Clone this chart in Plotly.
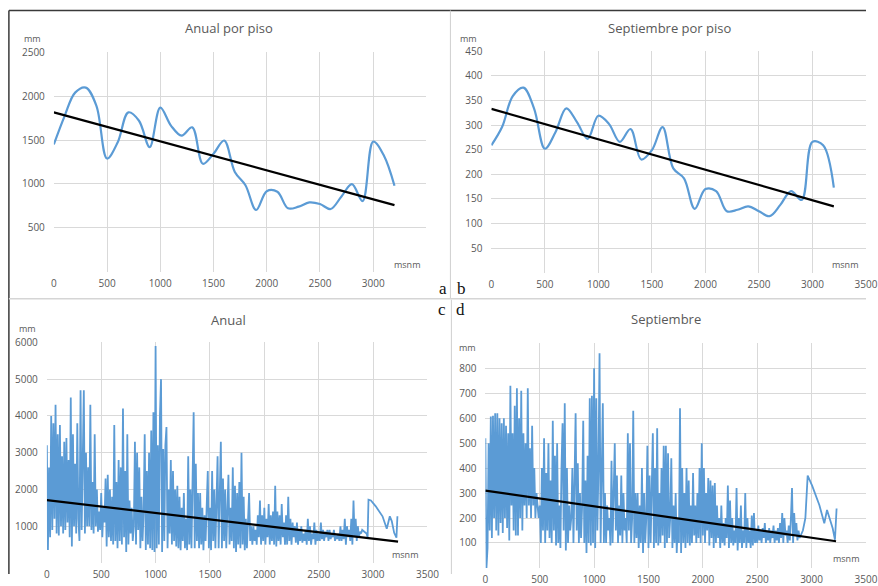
import plotly.graph_objects as go

W, H = 878, 586

# ---------------- DATA ----------------
# Panel a / b: mean precipitation per 100 m altitude band (msnm)
piso_x = [0, 100, 200, 300, 400, 500, 600, 700, 800, 900, 1000, 1100, 1200, 1300, 1400, 1500,
          1600, 1700, 1800, 1900, 2000, 2100, 2200, 2300, 2400, 2500, 2600, 2700, 2800, 2900,
          3000, 3100, 3200]
anual_piso = [1450, 1770, 2040, 2097, 1890, 1290, 1475, 1815, 1720, 1420, 1870, 1665, 1550, 1645,
              1230, 1345, 1495, 1137, 986, 704, 918, 911, 723, 742, 790, 772, 715, 855, 998, 806,
              1483, 1325, 980]
sept_piso = [259, 296, 359, 376, 333, 252, 286, 334, 306, 272, 319, 302, 266, 292, 230, 249,
             296, 212, 192, 130, 170, 166, 125, 128, 135, 125, 115, 138, 166, 148, 266, 259, 173]
trend_a_x = [0, 3200]
trend_a_y = [1815, 760]
trend_b_x = [0, 3200]
trend_b_y = [333, 135]

# Panel c / d: station values along altitude (10 m steps up to 2890 m, then sparse tail)
dense_x = list(range(0, 2900, 10))
anual_dense = [
    3200, 350, 2600, 700, 4000, 900, 3800, 1200, 4300, 800,
    3500, 750, 3750, 1000, 2900, 800, 3300, 900, 3400, 1100,
    2800, 700, 4500, 450, 3500, 1000, 2700, 800, 3800, 1200,
    600, 4700, 900, 2800, 4700, 800, 3000, 1000, 2600, 1000,
    4300, 900, 2200, 800, 3500, 1000, 2000, 850, 1400, 900,
    1900, 700, 1500, 1100, 2300, 450, 2400, 700, 2000, 600,
    1800, 500, 3750, 600, 2200, 400, 2800, 600, 2600, 500,
    4200, 700, 2500, 300, 3500, 500, 1700, 800, 1500, 600,
    1000, 3300, 500, 3000, 900, 2600, 400, 1800, 600, 1400,
    3500, 350, 2500, 500, 3000, 400, 3600, 350, 4100, 300,
    5900, 400, 3200, 500, 4000, 5000, 300, 3100, 600, 3200,
    3700, 400, 2000, 800, 2800, 500, 2500, 600, 2000, 450,
    2100, 400, 1800, 350, 1500, 600, 1900, 400, 1200, 350,
    2900, 500, 2000, 400, 2700, 4100, 400, 2700, 600, 1900,
    400, 1900, 500, 1500, 350, 1300, 600, 2000, 2500, 400,
    1500, 350, 2500, 600, 2000, 400, 2300, 2900, 400, 1800,
    3300, 400, 2300, 600, 2000, 400, 1800, 2400, 500, 1500,
    600, 2600, 400, 2100, 300, 1900, 500, 2200, 400, 3000,
    500, 1800, 350, 1200, 400, 1500, 1900, 600, 1000, 500,
    1000, 600, 900, 500, 1300, 700, 1700, 500, 1300, 600,
    1500, 500, 1200, 700, 1600, 500, 1300, 600, 1400, 500,
    2100, 450, 1400, 600, 1300, 500, 1600, 700, 1100, 500,
    1300, 500, 1800, 600, 1200, 500, 1100, 700, 1000, 550,
    1100, 500, 900, 600, 1000, 550, 800, 600, 900, 500,
    1200, 600, 1000, 500, 800, 650, 1100, 500, 900, 600,
    800, 600, 1100, 650, 900, 600, 850, 700, 900, 600,
    900, 650, 800, 700, 900, 600, 750, 650, 800, 600,
    1000, 600, 900, 650, 1200, 500, 1000, 700, 900, 600,
    1200, 500, 1700, 700, 1200, 600, 1000, 700, 850, 800,
]
anual_tail_x = [2900, 2920, 2940, 2950, 2958, 2980, 3025, 3087, 3126, 3154, 3172, 3194, 3215, 3224]
anual_tail_y = [900, 850, 800, 700, 1720, 1700, 1540, 1270, 930, 1270, 1140, 820, 690, 1270]

sept_dense = [
    520, 0, 80, 500, 150, 607, 120, 610, 200, 620,
    150, 620, 130, 600, 180, 580, 140, 600, 200, 570,
    160, 540, 110, 730, 250, 540, 150, 650, 130, 720,
    130, 600, 200, 710, 150, 540, 250, 500, 200, 720,
    250, 480, 200, 570, 250, 400, 200, 300, 250, 200,
    250, 100, 400, 150, 520, 100, 380, 150, 500, 120,
    350, 100, 590, 150, 450, 90, 500, 100, 250, 80,
    400, 580, 150, 660, 70, 400, 100, 250, 150, 200,
    400, 100, 350, 620, 150, 420, 100, 300, 120, 250,
    590, 100, 350, 60, 450, 100, 680, 90, 690, 100,
    800, 80, 680, 150, 400, 860, 100, 500, 660, 100,
    300, 100, 250, 150, 200, 90, 430, 100, 380, 500,
    150, 370, 100, 250, 130, 370, 100, 300, 150, 200,
    100, 540, 150, 500, 100, 200, 630, 100, 300, 120,
    300, 80, 250, 100, 400, 60, 300, 100, 200, 490,
    80, 370, 100, 300, 540, 80, 400, 100, 560, 90,
    300, 100, 400, 130, 490, 80, 490, 100, 460, 120,
    200, 440, 80, 250, 100, 300, 60, 200, 100, 640,
    60, 400, 100, 300, 80, 400, 100, 350, 90, 250,
    100, 380, 130, 250, 100, 300, 120, 400, 100, 500,
    130, 400, 100, 300, 150, 360, 90, 350, 120, 330,
    80, 340, 100, 250, 120, 200, 80, 250, 100, 180,
    90, 200, 120, 330, 80, 270, 100, 200, 90, 150,
    100, 320, 70, 200, 100, 250, 80, 150, 100, 300,
    80, 200, 100, 150, 80, 210, 90, 220, 100, 150,
    100, 170, 110, 150, 100, 160, 120, 180, 100, 150,
    110, 160, 100, 150, 120, 170, 100, 150, 110, 160,
    100, 180, 120, 220, 100, 200, 130, 150, 100, 170,
    110, 200, 320, 100, 220, 130, 180, 110, 150, 120,
]
sept_tail_x = [2900, 2920, 2934, 2943, 2964, 3005, 3072, 3117, 3142, 3163, 3194, 3215, 3230]
sept_tail_y = [130, 150, 180, 200, 370, 330, 251, 179, 232, 199, 159, 113, 238]

trend_c_x = [0, 3230]
trend_c_y = [1710, 580]
trend_d_x = [0, 3225]
trend_d_y = [310, 107]

x_ticks = [0, 500, 1000, 1500, 2000, 2500, 3000, 3500]
titles = ["Anual por piso", "Septiembre por piso", "Anual", "Septiembre"]

# ---------------- FIGURE ----------------
BLUE = "#5B9BD5"
GRID = "#D9D9D9"
TXT = "#595959"
FONT = "Open Sans"

# layout positions are given in reference-image pixels; the page capture shows the
# figure slightly shifted/scaled, so convert to figure pixels first
SX, OX = 0.984, 2.1
SY, OY = 0.972, 8.5

def px(x):
    return min(1.0, max(0.0, ((x - OX) / SX) / W))

def py(y):
    return min(1.0, max(0.0, 1 - ((y - OY) / SY) / H))

fig = go.Figure()

panels = [
    (piso_x, anual_piso, trend_a_x, trend_a_y, (53, 426), (53, 274), 2500, 500, 2.2, "spline", True),
    (piso_x, sept_piso, trend_b_x, trend_b_y, (491, 866), (52, 275), 450, 50, 2.2, "spline", False),
    (dense_x + anual_tail_x, anual_dense + anual_tail_y, trend_c_x, trend_c_y, (46, 427), (345, 567), 6000, 1000, 1.8, "linear", False),
    (dense_x + sept_tail_x, sept_dense + sept_tail_y, trend_d_x, trend_d_y, (485, 866), (346, 572), 900, 100, 1.8, "linear", False),
]

for i, (xs, ys, tx, ty, xd, yd, ymax, dy, lw, shape, hide3500) in enumerate(panels):
    k = "" if i == 0 else str(i + 1)
    fig.add_trace(go.Scatter(x=xs, y=ys, mode="lines",
                             line=dict(color=BLUE, width=lw, shape=shape, smoothing=1.0),
                             xaxis="x" + k, yaxis="y" + k, showlegend=False))
    fig.add_trace(go.Scatter(x=tx, y=ty, mode="lines",
                             line=dict(color="black", width=2.2),
                             xaxis="x" + k, yaxis="y" + k, showlegend=False))
    yvals = list(range(0, ymax + 1, dy))
    ytext = ["" if (v == 0 or (ymax == 900 and v == 900)) else str(v) for v in yvals]
    xtext = [("" if (hide3500 and v == 3500) else str(v)) for v in x_ticks]
    fig.layout["xaxis" + k] = dict(
        domain=[px(xd[0]), px(xd[1])], range=[0, 3500], anchor="y" + k,
        tickvals=x_ticks, ticktext=xtext, showgrid=True, gridcolor=GRID, gridwidth=1,
        zeroline=False, showline=False, ticks="", fixedrange=True,
        tickfont=dict(family=FONT, size=10, color=TXT), ticklabelstandoff=4,
    )
    fig.layout["yaxis" + k] = dict(
        domain=[py(yd[1]), py(yd[0])], range=[0, ymax], anchor="x" + k,
        tickvals=yvals, ticktext=ytext, showgrid=True, gridcolor=GRID, gridwidth=1,
        zeroline=False, showline=False, ticks="", fixedrange=True,
        tickfont=dict(family=FONT, size=10, color=TXT), ticklabelstandoff=8,
    )

annotations = []
def text(x, y, s, size, color=TXT, family=FONT, xanchor="center"):
    annotations.append(dict(x=px(x), y=py(y), xref="paper", yref="paper", text=s,
                            showarrow=False, xanchor=xanchor, yanchor="middle",
                            font=dict(family=family, size=size, color=color)))

# titles
text(228, 29, titles[0], 13)
text(669, 29, titles[1], 13)
text(228, 322, titles[2], 13)
text(666, 321, titles[3], 13)
# unit labels
for (x, y) in [(32, 39), (468, 39), (27, 331), (467, 350)]:
    text(x, y, "mm", 9)
for (x, y) in [(407, 267), (845, 267), (405, 558), (846, 562)]:
    text(x, y, "msnm", 9)
# panel letters
SERIF = "Liberation Serif"
text(443, 291, "a", 17, color="#111", family=SERIF)
text(461, 291, "b", 17, color="#111", family=SERIF)
text(442, 312, "c", 17, color="#111", family=SERIF)
text(460, 312, "d", 17, color="#111", family=SERIF)

shapes = [
    dict(type="line", xref="paper", yref="paper", x0=px(8), x1=1, y0=py(11), y1=py(11),
         line=dict(color="#3a3a3a", width=1.5)),
    dict(type="line", xref="paper", yref="paper", x0=px(8), x1=px(8), y0=py(11), y1=0,
         line=dict(color="#3a3a3a", width=1.5)),
    dict(type="line", xref="paper", yref="paper", x0=px(450), x1=px(450), y0=py(11), y1=py(301),
         line=dict(color="#CFCFCF", width=1)),
    dict(type="line", xref="paper", yref="paper", x0=px(451), x1=px(451), y0=py(302), y1=0,
         line=dict(color="#CFCFCF", width=1)),
    dict(type="line", xref="paper", yref="paper", x0=px(8), x1=1, y0=py(301), y1=py(301),
         line=dict(color="#D5D5D5", width=1.5)),
]

fig.update_layout(
    width=W, height=H, margin=dict(l=0, r=0, t=0, b=0),
    paper_bgcolor="white", plot_bgcolor="white",
    annotations=annotations, shapes=shapes, showlegend=False,
)

fig.write_html(
    "out.html",
    config={"displayModeBar": False},
    post_script="document.body.style.margin='0';document.body.style.overflow='hidden';"
                "document.documentElement.style.overflow='hidden';",
)
